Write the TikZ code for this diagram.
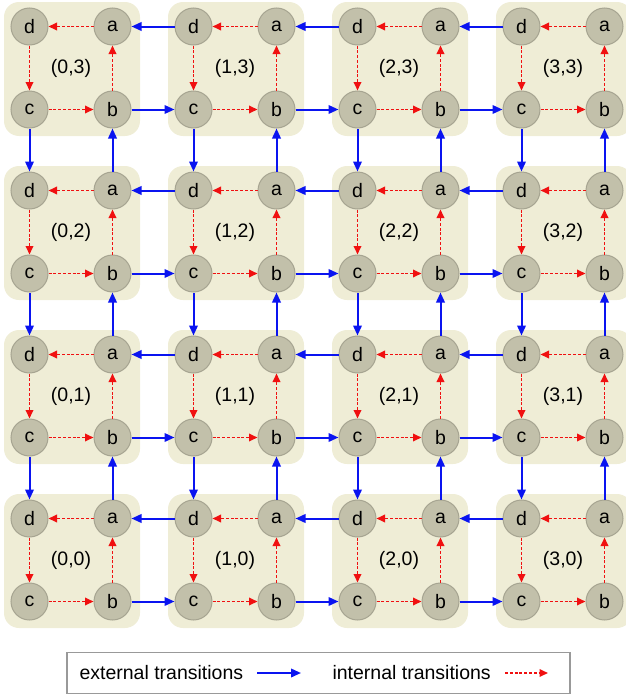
\documentclass[tikz,border=0pt]{standalone}
\usepackage{fontspec}
\setmainfont{Liberation Sans}
\usetikzlibrary{arrows.meta}
\definecolor{cellbg}{HTML}{EFEDD6}
\definecolor{statefill}{HTML}{C2C0AA}
\definecolor{stateline}{HTML}{A6A491}
\definecolor{extblue}{HTML}{0A14F0}
\definecolor{intred}{HTML}{F01010}

\begin{document}
\begin{tikzpicture}[x=1pt,y=-1pt,
  state/.style={circle,fill=statefill,draw=stateline,line width=1pt,minimum size=37pt,inner sep=0pt,font=\fontsize{19.5}{22}\selectfont},
  ext/.style={-{Triangle[length=10pt,width=8.5pt]},line width=2pt,extblue},
  int/.style={-{Triangle[length=8.5pt,width=7.5pt]},line width=1.8pt,intred,dash pattern=on 3pt off 1.8pt}]
  \useasboundingbox (0,0) rectangle (626,696);
  \clip (0,0) rectangle (626,696);
  \foreach \i in {0,...,3}
    \foreach \j in {0,...,3} {
      \pgfmathsetmacro\cx{71+164*\i}
      \pgfmathsetmacro\cy{68+164*(3-\j)}
      \fill[cellbg,rounded corners=15pt] (\cx-67,\cy-66) rectangle (\cx+69,\cy+68);
      \node[state] (d\i\j) at (\cx-41.5,\cy-41.5) {d};
      \node[state] (a\i\j) at (\cx+41.5,\cy-41.5) {a};
      \node[state] (c\i\j) at (\cx-41.5,\cy+41.5) {c};
      \node[state] (b\i\j) at (\cx+41.5,\cy+41.5) {b};
      \node[font=\fontsize{19.5}{22}\selectfont] (lbl\i\j) at (\cx,\cy) {(\i,\j)};
      \draw[int] (a\i\j) -- (d\i\j);
      \draw[int] (d\i\j) -- (c\i\j);
      \draw[int] (c\i\j) -- (b\i\j);
      \draw[int] (b\i\j) -- (a\i\j);
    }
  \foreach \i/\ni in {0/1,1/2,2/3}
    \foreach \j in {0,...,3} {
      \draw[ext] (d\ni\j) -- (a\i\j);
      \draw[ext] (b\i\j) -- (c\ni\j);
    }
  \foreach \i in {0,...,3}
    \foreach \j/\pj in {1/0,2/1,3/2} {
      \draw[ext] (c\i\j) -- (d\i\pj);
      \draw[ext] (a\i\pj) -- (b\i\j);
    }
  \node[draw=gray!80,line width=1.2pt,minimum width=503pt,minimum height=41pt] (legend) at (318.5,673) {};
  \node[anchor=west,font=\fontsize{19.5}{22}\selectfont] (extlbl) at (76,673) {external transitions};
  \node[anchor=west,font=\fontsize{19.5}{22}\selectfont] (intlbl) at (329,673) {internal transitions};
  \coordinate (exts) at (257,673);
  \coordinate (exte) at (301,673);
  \coordinate (ints) at (505,673);
  \coordinate (inte) at (548,673);
  \draw[ext] (exts) -- (exte);
  \draw[int] (ints) -- (inte);
\end{tikzpicture}
\end{document}
